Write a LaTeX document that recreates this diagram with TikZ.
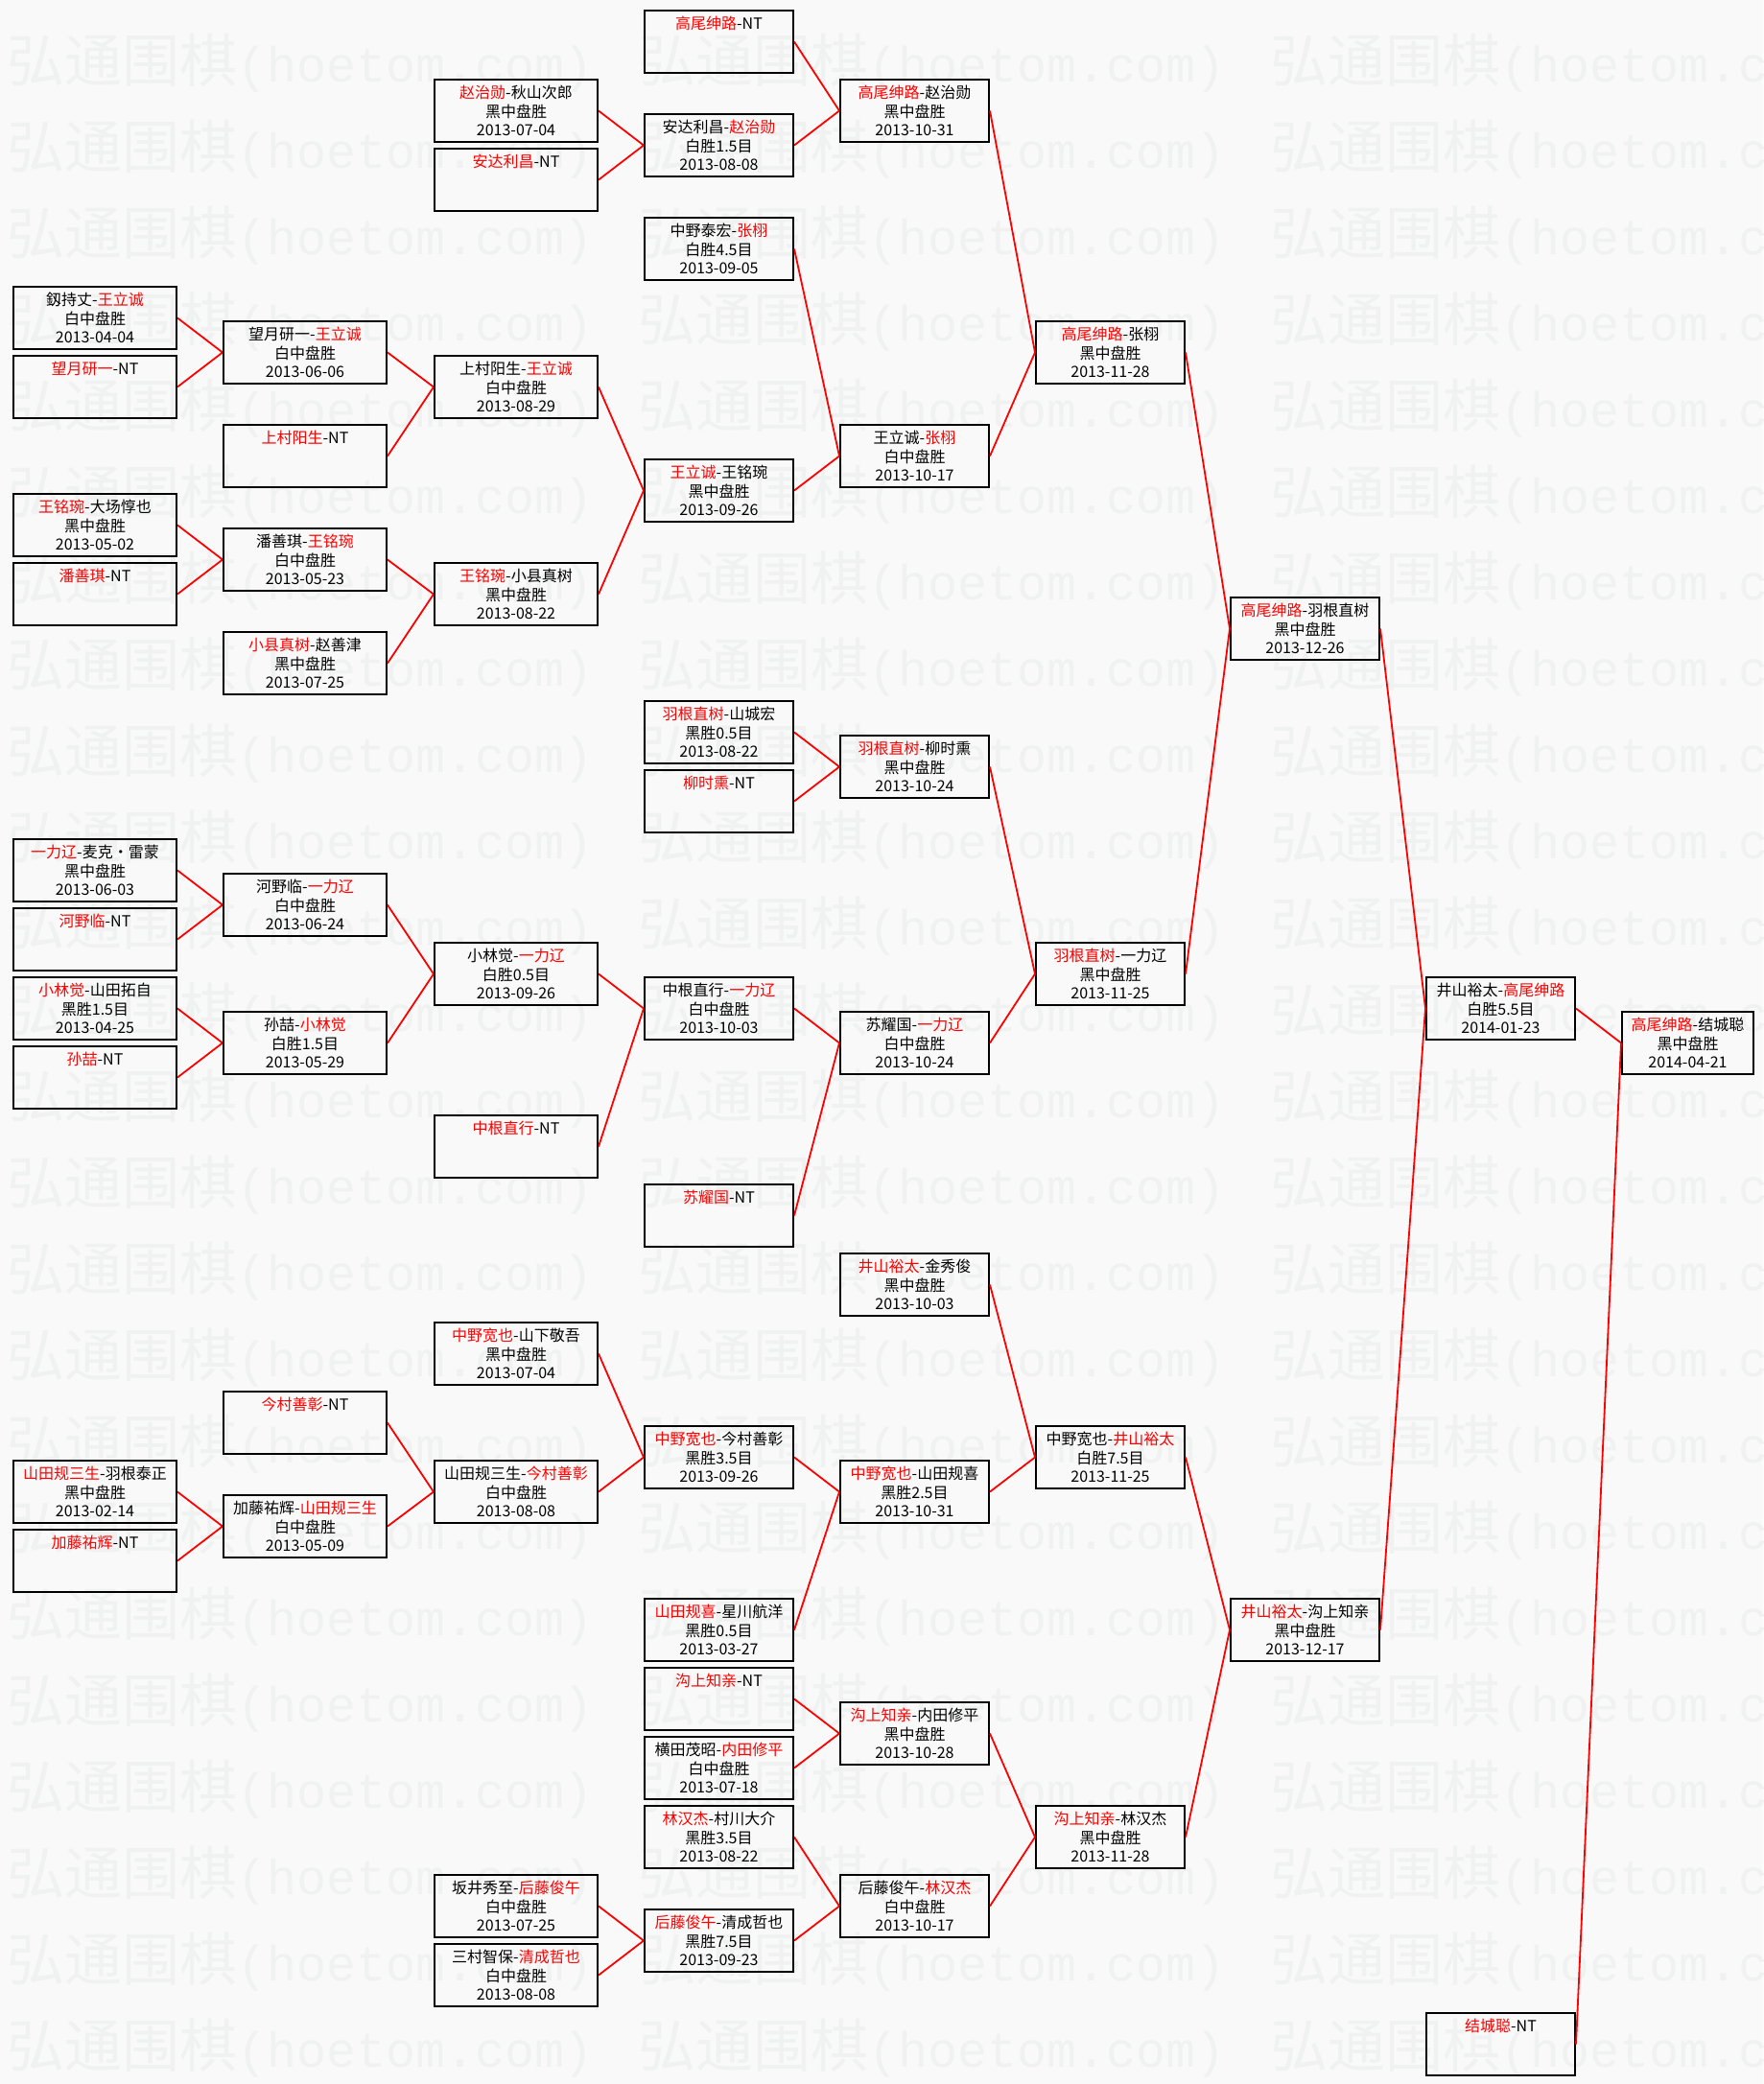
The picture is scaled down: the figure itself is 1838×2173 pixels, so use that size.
\documentclass[tikz,border=0pt]{standalone}
\usepackage{fontspec}
\newfontfamily\cjk{Noto Sans CJK SC}
\newfontfamily\wmlatin{Liberation Mono}
\usepackage{tikz}
\definecolor{paper}{RGB}{249,249,249}
\definecolor{wmgray}{RGB}{240,241,241}
\tikzset{
  game/.style={draw=black,line width=1pt,rectangle,anchor=north west,
    minimum height=32.5pt,inner sep=0pt,align=center,
    font=\cjk\fontsize{8pt}{9.75pt}\selectfont},
  wide/.style={game,minimum width=85pt},
  mid/.style={game,minimum width=77.5pt},
  last/.style={game,minimum width=68.5pt},
  link/.style={red,line width=0.9pt},
  wmark/.style={anchor=west,inner sep=0pt,text=wmgray,
    font=\cjk\fontsize{30pt}{30pt}\selectfont}
}
\newcommand\winner[1]{\textcolor{red}{#1}}

\begin{document}
\begin{tikzpicture}[x=0.5pt,y=-0.5pt]
\fill[paper] (0,0) rectangle (1838,2173);
\useasboundingbox (0,0) rectangle (1838,2173);
\begin{scope}
\clip (0,0) rectangle (1838,2173);
\foreach \r in {0,...,23}
  \foreach \c in {0,1,2}
    \node[wmark] (wm-\r-\c) at ({7+658.5*\c},{66+90*\r})
      {弘通围棋{\wmlatin\fontsize{25.8pt}{26pt}\selectfont(hoetom.com)}};
\end{scope}

% first round
\node[wide] (a1) at (13,298) {釼持丈-\winner{王立诚}\\白中盘胜\\2013-04-04};
\node[wide] (a2) at (13,370) {\winner{望月研一}-NT\\~\\~};
\node[wide] (a3) at (13,514) {\winner{王铭琬}-大场惇也\\黑中盘胜\\2013-05-02};
\node[wide] (a4) at (13,586) {\winner{潘善琪}-NT\\~\\~};
\node[wide] (a5) at (13,874) {\winner{一力辽}-麦克・雷蒙\\黑中盘胜\\2013-06-03};
\node[wide] (a6) at (13,946) {\winner{河野临}-NT\\~\\~};
\node[wide] (a7) at (13,1018) {\winner{小林觉}-山田拓自\\黑胜1.5目\\2013-04-25};
\node[wide] (a8) at (13,1090) {\winner{孙喆}-NT\\~\\~};
\node[wide] (a9) at (13,1522) {\winner{山田规三生}-羽根泰正\\黑中盘胜\\2013-02-14};
\node[wide] (a10) at (13,1594) {\winner{加藤祐辉}-NT\\~\\~};

\node[wide] (b1) at (232,334) {望月研一-\winner{王立诚}\\白中盘胜\\2013-06-06};
\node[wide] (b2) at (232,442) {\winner{上村阳生}-NT\\~\\~};
\node[wide] (b3) at (232,550) {潘善琪-\winner{王铭琬}\\白中盘胜\\2013-05-23};
\node[wide] (b4) at (232,658) {\winner{小县真树}-赵善津\\黑中盘胜\\2013-07-25};
\node[wide] (b5) at (232,910) {河野临-\winner{一力辽}\\白中盘胜\\2013-06-24};
\node[wide] (b6) at (232,1054) {孙喆-\winner{小林觉}\\白胜1.5目\\2013-05-29};
\node[wide] (b7) at (232,1450) {\winner{今村善彰}-NT\\~\\~};
\node[wide] (b8) at (232,1558) {加藤祐辉-\winner{山田规三生}\\白中盘胜\\2013-05-09};

\node[wide] (c1) at (452,82) {\winner{赵治勋}-秋山次郎\\黑中盘胜\\2013-07-04};
\node[wide] (c2) at (452,154) {\winner{安达利昌}-NT\\~\\~};
\node[wide] (c3) at (452,370) {上村阳生-\winner{王立诚}\\白中盘胜\\2013-08-29};
\node[wide] (c4) at (452,586) {\winner{王铭琬}-小县真树\\黑中盘胜\\2013-08-22};
\node[wide] (c5) at (452,982) {小林觉-\winner{一力辽}\\白胜0.5目\\2013-09-26};
\node[wide] (c6) at (452,1162) {\winner{中根直行}-NT\\~\\~};
\node[wide] (c7) at (452,1378) {\winner{中野宽也}-山下敬吾\\黑中盘胜\\2013-07-04};
\node[wide] (c8) at (452,1522) {山田规三生-\winner{今村善彰}\\白中盘胜\\2013-08-08};
\node[wide] (c9) at (452,1954) {坂井秀至-\winner{后藤俊午}\\白中盘胜\\2013-07-25};
\node[wide] (c10) at (452,2026) {三村智保-\winner{清成哲也}\\白中盘胜\\2013-08-08};

\node[mid] (d1) at (671,10) {\winner{高尾绅路}-NT\\~\\~};
\node[mid] (d2) at (671,118) {安达利昌-\winner{赵治勋}\\白胜1.5目\\2013-08-08};
\node[mid] (d3) at (671,226) {中野泰宏-\winner{张栩}\\白胜4.5目\\2013-09-05};
\node[mid] (d4) at (671,478) {\winner{王立诚}-王铭琬\\黑中盘胜\\2013-09-26};
\node[mid] (d5) at (671,730) {\winner{羽根直树}-山城宏\\黑胜0.5目\\2013-08-22};
\node[mid] (d6) at (671,802) {\winner{柳时熏}-NT\\~\\~};
\node[mid] (d7) at (671,1018) {中根直行-\winner{一力辽}\\白中盘胜\\2013-10-03};
\node[mid] (d8) at (671,1234) {\winner{苏耀国}-NT\\~\\~};
\node[mid] (d9) at (671,1486) {\winner{中野宽也}-今村善彰\\黑胜3.5目\\2013-09-26};
\node[mid] (d10) at (671,1666) {\winner{山田规喜}-星川航洋\\黑胜0.5目\\2013-03-27};
\node[mid] (d11) at (671,1738) {\winner{沟上知亲}-NT\\~\\~};
\node[mid] (d12) at (671,1810) {横田茂昭-\winner{内田修平}\\白中盘胜\\2013-07-18};
\node[mid] (d13) at (671,1882) {\winner{林汉杰}-村川大介\\黑胜3.5目\\2013-08-22};
\node[mid] (d14) at (671,1990) {\winner{后藤俊午}-清成哲也\\黑胜7.5目\\2013-09-23};

\node[mid] (e1) at (875,82) {\winner{高尾绅路}-赵治勋\\黑中盘胜\\2013-10-31};
\node[mid] (e2) at (875,442) {王立诚-\winner{张栩}\\白中盘胜\\2013-10-17};
\node[mid] (e3) at (875,766) {\winner{羽根直树}-柳时熏\\黑中盘胜\\2013-10-24};
\node[mid] (e4) at (875,1054) {苏耀国-\winner{一力辽}\\白中盘胜\\2013-10-24};
\node[mid] (e5) at (875,1306) {\winner{井山裕太}-金秀俊\\黑中盘胜\\2013-10-03};
\node[mid] (e6) at (875,1522) {\winner{中野宽也}-山田规喜\\黑胜2.5目\\2013-10-31};
\node[mid] (e7) at (875,1774) {\winner{沟上知亲}-内田修平\\黑中盘胜\\2013-10-28};
\node[mid] (e8) at (875,1954) {后藤俊午-\winner{林汉杰}\\白中盘胜\\2013-10-17};

\node[mid] (f1) at (1079,334) {\winner{高尾绅路}-张栩\\黑中盘胜\\2013-11-28};
\node[mid] (f2) at (1079,982) {\winner{羽根直树}-一力辽\\黑中盘胜\\2013-11-25};
\node[mid] (f3) at (1079,1486) {中野宽也-\winner{井山裕太}\\白胜7.5目\\2013-11-25};
\node[mid] (f4) at (1079,1882) {\winner{沟上知亲}-林汉杰\\黑中盘胜\\2013-11-28};

\node[mid] (g1) at (1282,622) {\winner{高尾绅路}-羽根直树\\黑中盘胜\\2013-12-26};
\node[mid] (g2) at (1282,1666) {\winner{井山裕太}-沟上知亲\\黑中盘胜\\2013-12-17};

\node[mid] (h1) at (1486,1018) {井山裕太-\winner{高尾绅路}\\白胜5.5目\\2014-01-23};
\node[mid] (h2) at (1486,2098) {\winner{结城聪}-NT\\~\\~};

\node[last] (k1) at (1690,1054) {\winner{高尾绅路}-结城聪\\黑中盘胜\\2014-04-21};

% winners move right
\draw[link] (a1.east) -- (b1.west) (a2.east) -- (b1.west);
\draw[link] (a3.east) -- (b3.west) (a4.east) -- (b3.west);
\draw[link] (a5.east) -- (b5.west) (a6.east) -- (b5.west);
\draw[link] (a7.east) -- (b6.west) (a8.east) -- (b6.west);
\draw[link] (a9.east) -- (b8.west) (a10.east) -- (b8.west);
\draw[link] (b1.east) -- (c3.west) (b2.east) -- (c3.west);
\draw[link] (b3.east) -- (c4.west) (b4.east) -- (c4.west);
\draw[link] (b5.east) -- (c5.west) (b6.east) -- (c5.west);
\draw[link] (b7.east) -- (c8.west) (b8.east) -- (c8.west);
\draw[link] (c1.east) -- (d2.west) (c2.east) -- (d2.west);
\draw[link] (c3.east) -- (d4.west) (c4.east) -- (d4.west);
\draw[link] (c5.east) -- (d7.west) (c6.east) -- (d7.west);
\draw[link] (c7.east) -- (d9.west) (c8.east) -- (d9.west);
\draw[link] (c9.east) -- (d14.west) (c10.east) -- (d14.west);
\draw[link] (d1.east) -- (e1.west) (d2.east) -- (e1.west);
\draw[link] (d3.east) -- (e2.west) (d4.east) -- (e2.west);
\draw[link] (d5.east) -- (e3.west) (d6.east) -- (e3.west);
\draw[link] (d7.east) -- (e4.west) (d8.east) -- (e4.west);
\draw[link] (d9.east) -- (e6.west) (d10.east) -- (e6.west);
\draw[link] (d11.east) -- (e7.west) (d12.east) -- (e7.west);
\draw[link] (d13.east) -- (e8.west) (d14.east) -- (e8.west);
\draw[link] (e1.east) -- (f1.west) (e2.east) -- (f1.west);
\draw[link] (e3.east) -- (f2.west) (e4.east) -- (f2.west);
\draw[link] (e5.east) -- (f3.west) (e6.east) -- (f3.west);
\draw[link] (e7.east) -- (f4.west) (e8.east) -- (f4.west);
\draw[link] (f1.east) -- (g1.west) (f2.east) -- (g1.west);
\draw[link] (f3.east) -- (g2.west) (f4.east) -- (g2.west);
\draw[link] (g1.east) -- (h1.west) (g2.east) -- (h1.west);
\draw[link] (h1.east) -- (k1.west) (h2.east) -- (k1.west);
\end{tikzpicture}
\end{document}
